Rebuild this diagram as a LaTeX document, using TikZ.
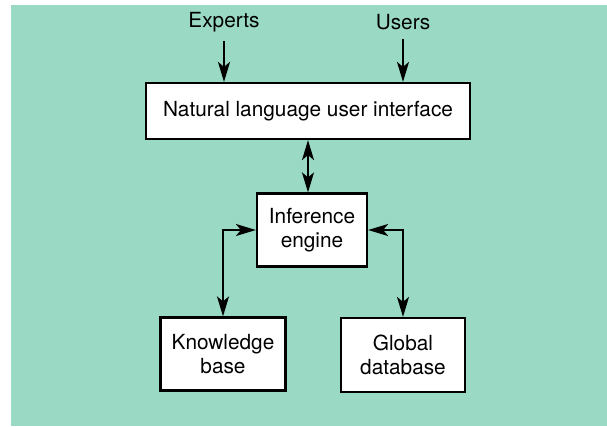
\documentclass[tikz,border=0pt]{standalone}
\usepackage{fontspec}
\setmainfont{TeX Gyre Heros}
\usetikzlibrary{arrows.meta}
\definecolor{panel}{RGB}{154,218,197}

\begin{document}
\begin{tikzpicture}[x=1pt, y=-1pt,
  >={Stealth[length=20pt,width=12pt,inset=5pt]},
  box/.style={draw, fill=white, line width=2.2pt, align=center, inner sep=0pt,
    font=\fontsize{20.8}{24}\selectfont},
  tag/.style={font=\fontsize{20.8}{24}\selectfont, inner sep=0pt},
  link/.style={line width=1.9pt, ->},
  twoway/.style={line width=1.9pt, <->}]
  \useasboundingbox (0,0) rectangle (607,426);
  % fundo
  \fill[panel] (11,5) rectangle (607,426);

  % caixas
  \node[box, minimum width=324pt, minimum height=56pt] (nlui) at (308,111) {Natural language user interface};
  \node[box, minimum width=110pt, minimum height=73pt] (infer) at (312,230) {Inference\\engine};
  \node[box, minimum width=125pt, minimum height=73pt] (know) at (223,354) {Knowledge\\base};
  \node[box, minimum width=124pt, minimum height=74pt] (glob) at (403,355) {Global\\database};

  % entradas
  \node[tag] (experts) at (224,22) {Experts};
  \node[tag] (users) at (403,22) {Users};
  \draw[link, shorten <=9pt] (experts.south) -- (experts.south |- nlui.north);
  \draw[link, shorten <=9pt] (users.south) -- (users.south |- nlui.north);

  % ligacoes
  \draw[twoway] (nlui.south) -- (nlui.south |- infer.north);
  \draw[twoway] (infer.west) -| (know.north);
  \draw[twoway] (infer.east) -| (glob.north);
\end{tikzpicture}
\end{document}
